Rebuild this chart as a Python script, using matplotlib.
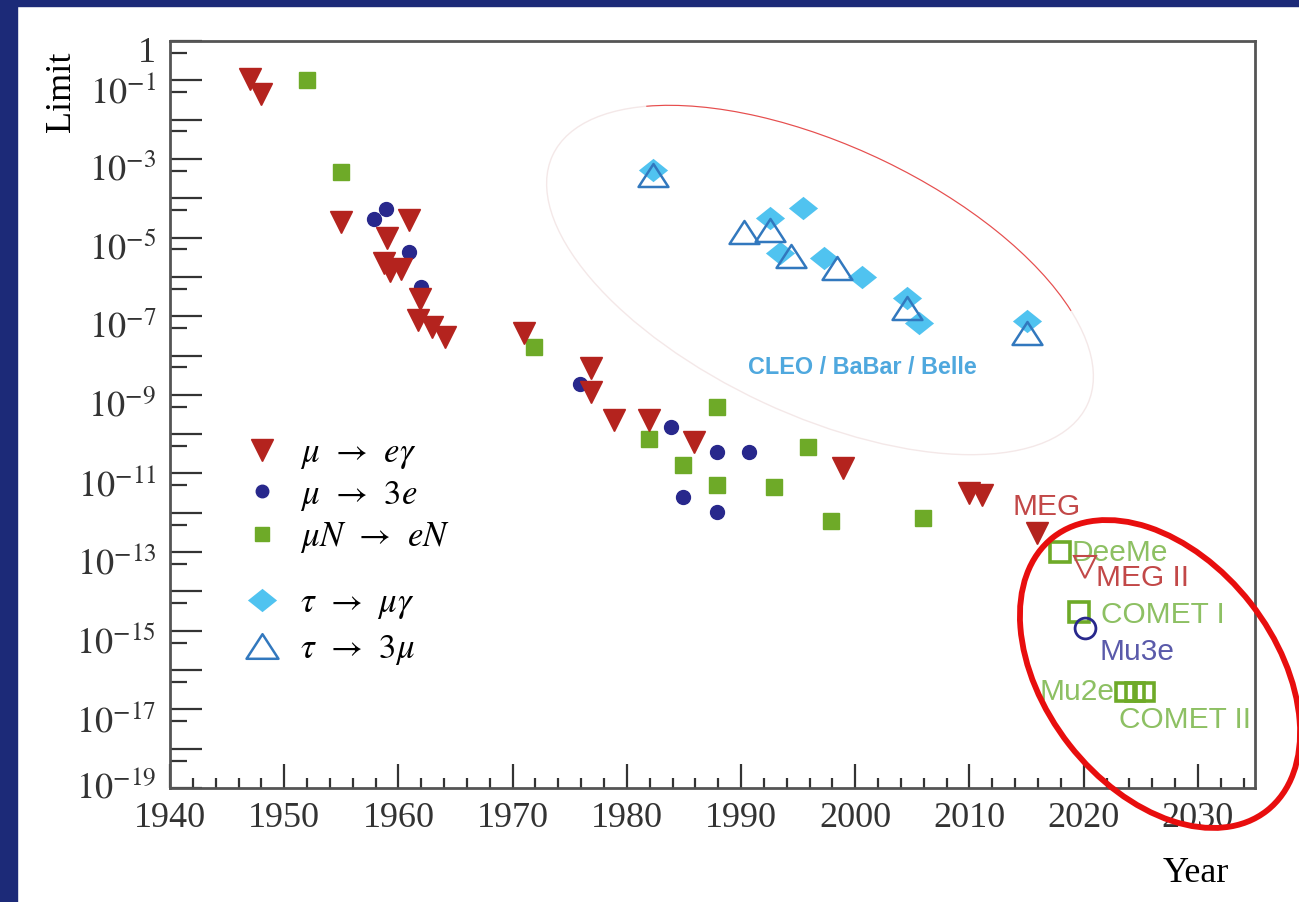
import numpy as np
import matplotlib
matplotlib.use("Agg")
import matplotlib.pyplot as plt
from matplotlib.patches import Ellipse, Arc, Rectangle
from matplotlib.transforms import IdentityTransform, ScaledTranslation
from matplotlib.ticker import LogLocator, MultipleLocator, FuncFormatter, NullFormatter
from matplotlib.lines import Line2D
from matplotlib.path import Path

# ----------------- DATA -----------------
# mu -> e gamma (filled red triangles)
meg_year = [1947.0, 1948.0, 1955.0, 1959.0, 1960.9, 1958.7, 1959.3, 1960.2,
            1961.9, 1961.7, 1962.9, 1964.1, 1971.0, 1976.9, 1976.9, 1978.9,
            1981.9, 1985.9, 1998.9, 2010.0, 2011.1, 2015.9]
meg_limit = [1.07e-1, 4.5e-2, 2.5e-5, 1.0e-5, 2.8e-5, 2.2e-6, 1.4e-6, 1.6e-6,
             2.8e-7, 7.9e-8, 5.2e-8, 3.0e-8, 3.7e-8, 4.8e-9, 1.2e-9, 2.3e-10,
             2.3e-10, 6.3e-11, 1.4e-11, 3.2e-12, 2.8e-12, 3.0e-13]

# mu -> 3e (filled navy circles)
m3e_year = [1957.9, 1958.9, 1960.9, 1962.0, 1975.9, 1983.9, 1984.9, 1987.9,
            1987.9, 1990.7]
m3e_limit = [2.9e-5, 5.4e-5, 4.3e-6, 5.5e-7, 1.9e-9, 1.5e-10, 2.5e-12, 3.5e-11,
             1.05e-12, 3.5e-11]

# mu N -> e N (filled green squares)
mne_year = [1952.0, 1955.0, 1971.9, 1981.9, 1984.9, 1987.9, 1987.9, 1992.9,
            1995.9, 1997.9, 2005.9]
mne_limit = [1.0e-1, 4.7e-4, 1.66e-8, 7.4e-11, 1.6e-11, 4.9e-10, 5.0e-12,
             4.5e-12, 4.7e-11, 6.3e-13, 7.2e-13]

# tau -> mu gamma (cyan diamonds)
tmg_year = [1982.3, 1992.5, 1995.4, 1993.4, 1997.3, 2000.6, 2004.5, 2005.6, 2015.0]
tmg_limit = [5.2e-4, 3.2e-5, 5.6e-5, 4.0e-6, 3.0e-6, 1.0e-6, 2.9e-7, 6.6e-8, 7.5e-8]

# tau -> 3 mu (open blue triangles)
t3m_year = [1982.3, 1990.3, 1992.5, 1994.4, 1998.4, 2004.5, 2015.0]
t3m_limit = [3.9e-4, 1.4e-5, 1.6e-5, 3.5e-6, 1.7e-6, 1.6e-7, 3.8e-8]

# future experiments (open markers)
megii_year, megii_limit = [2020.1], [4.2e-14]
deeme_year, deeme_limit = [2017.9], [1.0e-13]
cometi_year, cometi_limit = [2019.6], [3.0e-15]
mu3e_year, mu3e_limit = [2020.1], [1.15e-15]
mu2e_year = [2023.6, 2024.5, 2025.4]
mu2e_limit = [2.8e-17, 2.8e-17, 2.8e-17]

# ----------------- STYLE -----------------
W, H, DPI = 1299, 902, 100
NAVY = "#1c2a78"
RED = "#b4231e"
BLUE = "#28288c"
GREEN = "#6eaa28"
CYAN = "#50c3f0"
TBLUE = "#3278be"
RED_TXT = "#c24848"
GREEN_TXT = "#8dc063"
BLUE_TXT = "#5a5aaa"

plt.rcParams["mathtext.fontset"] = "stix"
plt.rcParams["font.family"] = ["Liberation Serif", "DejaVu Serif"]

diamond = Path([(-1.25, 0), (0, 1), (1.25, 0), (0, -1), (-1.25, 0)], closed=True)
tri_up = Path([(-1, -0.77), (1, -0.77), (0, 0.77), (-1, -0.77)], closed=True)

fig = plt.figure(figsize=(W / DPI, H / DPI), dpi=DPI)
ax = fig.add_axes([170 / W, 1 - 788 / H, (1255 - 170) / W, (788 - 41) / H])

# data
ax.plot(mne_year, mne_limit, ls="none", marker="s", ms=11, color=GREEN, zorder=3)
ax.plot(m3e_year, m3e_limit, ls="none", marker="o", ms=10, color=BLUE, zorder=3)
ax.plot(meg_year, meg_limit, ls="none", marker="v", ms=16, color=RED, zorder=4)
ax.plot(tmg_year, tmg_limit, ls="none", marker=diamond, ms=21, color=CYAN,
        mew=0, zorder=3)
ax.plot(t3m_year, t3m_limit, ls="none", marker=tri_up, ms=21.5, mfc="none",
        mec=TBLUE, mew=1.8, zorder=4)

ax.plot(deeme_year, deeme_limit, ls="none", marker="s", ms=15, mfc="none",
        mec=GREEN, mew=2.6, zorder=4)
ax.plot(megii_year, megii_limit, ls="none", marker="v", ms=16, mfc="none",
        mec=RED_TXT, mew=1.5, zorder=4)
ax.plot(cometi_year, cometi_limit, ls="none", marker="s", ms=15, mfc="none",
        mec=GREEN, mew=2.6, zorder=4)
ax.plot(mu3e_year, mu3e_limit, ls="none", marker="o", ms=15, mfc="none",
        mec=BLUE, mew=2.0, zorder=4)
ax.plot(mu2e_year, mu2e_limit, ls="none", marker="s", ms=13, mfc="none",
        mec=GREEN, mew=2.6, zorder=4)

# experiment labels
lab_kw = dict(family=["Liberation Sans", "DejaVu Sans"], fontsize=21.5, va="center")
ax.text(2013.75, 10 ** -11.86, "MEG", color=RED_TXT, **lab_kw)
ax.text(2018.9, 10 ** -13.03, "DeeMe", color=GREEN_TXT, **lab_kw)
ax.text(2021.1, 10 ** -13.66, "MEG II", color=RED_TXT, **lab_kw)
ax.text(2021.5, 10 ** -14.6, "COMET I", color=GREEN_TXT, **lab_kw)
ax.text(2021.4, 10 ** -15.55, "Mu3e", color=BLUE_TXT, **lab_kw)
ax.text(2022.7, 10 ** -16.56, "Mu2e", color=GREEN_TXT, ha="right", **lab_kw)
ax.text(2023.1, 10 ** -17.28, "COMET II", color=GREEN_TXT, **lab_kw)
ax.text(1990.6, 10 ** -8.3, "CLEO / BaBar / Belle", color="#4fa8de",
        family=["Liberation Sans", "DejaVu Sans"], fontsize=16.8, weight="bold",
        va="center")

# axes
ax.set_xlim(1940, 2035)
ax.set_yscale("log")
ax.set_ylim(1e-19, 1)
ax.xaxis.set_major_locator(MultipleLocator(10))
ax.xaxis.set_minor_locator(MultipleLocator(2))
ax.yaxis.set_major_locator(LogLocator(base=10, numticks=40))
ax.yaxis.set_minor_locator(LogLocator(base=10, subs=[5.0], numticks=40))


def ylab(v, pos):
    e = int(round(np.log10(v)))
    if e == 0:
        return "1"
    if e % 2:
        return r"$10^{%d}$" % e
    return ""


ax.yaxis.set_major_formatter(FuncFormatter(ylab))
ax.yaxis.set_minor_formatter(NullFormatter())
ax.tick_params(which="both", direction="in", colors="#333333", width=1.6,
               labelsize=26, top=False, right=False)
ax.tick_params(axis="y", which="major", length=23, pad=10)
ax.tick_params(axis="y", which="minor", length=12)
ax.tick_params(axis="x", which="major", length=17, pad=10)
ax.tick_params(axis="x", which="minor", length=7)
for s in ax.spines.values():
    s.set_color("#555555")
    s.set_linewidth(2)

# y labels sit a little below their ticks in the original; the lowest one is
# nudged up instead so it stays clear of the 1940 label
down = ScaledTranslation(0, -6 / 72, fig.dpi_scale_trans)
up = ScaledTranslation(0, 3 / 72, fig.dpi_scale_trans)
for val, lab in zip(ax.get_yticks(), ax.get_yticklabels()):
    if val < 2e-19:
        lab.set_transform(lab.get_transform() + up)
    else:
        lab.set_transform(lab.get_transform() + down)

ax.set_ylabel("Limit", fontsize=26)
ax.yaxis.set_label_coords(-0.085, 0.932)
ax.set_xlabel("Year", fontsize=26)
ax.xaxis.set_label_coords(0.945, -0.092)

# legends
h1 = [Line2D([], [], ls="none", marker="v", ms=16, color=RED),
      Line2D([], [], ls="none", marker="o", ms=9, color=BLUE),
      Line2D([], [], ls="none", marker="s", ms=10, color=GREEN)]
l1 = [r"$\mu \;\,\rightarrow\;\, e\gamma$", r"$\mu \;\,\rightarrow\;\, 3e$",
      r"$\mu N \;\,\rightarrow\;\, eN$"]
leg1 = ax.legend(h1, l1, loc="upper left", bbox_to_anchor=(0.0688, 0.470),
                 frameon=False, fontsize=25, labelspacing=0.22, handlelength=1.0,
                 handletextpad=0.595, borderpad=0, borderaxespad=0)
ax.add_artist(leg1)
h2 = [Line2D([], [], ls="none", marker=diamond, ms=21, color=CYAN, mew=0),
      Line2D([], [], ls="none", marker=tri_up, ms=23, mfc="none", mec=TBLUE,
             mew=1.8)]
l2 = [r"$\tau \;\,\rightarrow\;\, \mu\gamma$", r"$\tau \;\,\rightarrow\;\, 3\mu$"]
ax.legend(h2, l2, loc="upper left", bbox_to_anchor=(0.0688, 0.269),
          frameon=False, fontsize=25, labelspacing=0.35, handlelength=1.0,
          handletextpad=0.595, borderpad=0, borderaxespad=0)

# hand-drawn highlight ellipses (pixel coordinates of the picture)
fig.add_artist(Ellipse((820, H - 280), 590, 270, angle=-25, fill=False,
                       ec="#f4e8e8", lw=1.0, transform=IdentityTransform()))
fig.add_artist(Arc((820, H - 280), 590, 270, angle=-25, theta1=18, theta2=160,
                   ec="#e84a4a", lw=0.8, transform=IdentityTransform()))
fig.add_artist(Ellipse((1160, H - 674), 347, 230, angle=-52, fill=False,
                       ec="#e80e0e", lw=4.2, transform=IdentityTransform(),
                       zorder=10))

# navy slide frame
fig.add_artist(Rectangle((0, 0), 17 / W, 1, transform=fig.transFigure,
                         color=NAVY, zorder=11))
fig.add_artist(Rectangle((0, 1 - 6 / H), 1, 6 / H, transform=fig.transFigure,
                         color=NAVY, zorder=11))

fig.savefig("out.png", dpi=DPI)
